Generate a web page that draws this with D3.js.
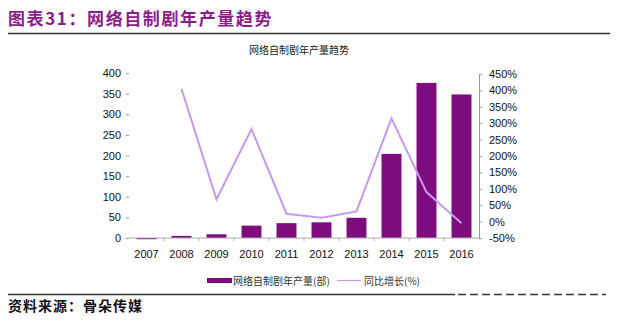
<!DOCTYPE html>
<html><head><meta charset="utf-8">
<script src="https://cdn.jsdelivr.net/npm/d3@7"></script>
<style>
body{margin:0;background:#fff;}
text{font-family:"Liberation Sans",Arial,sans-serif;}
.cjk{font-family:"Noto Sans CJK SC",sans-serif;}
</style></head>
<body><svg id="c" width="640" height="324"></svg>
<script>
const years = ["2007","2008","2009","2010","2011","2012","2013","2014","2015","2016"];
const output = [-3, 5, 9, 30, 36, 38, 49, 204, 376, 348];
const growth = [null, 405, 68, 282, 24, 12, 31, 315, 90, -5];
const leftTicks = [0,50,100,150,200,250,300,350,400];
const rightTicks = [-50,0,50,100,150,200,250,300,350,400,450];
const headerText = "图表31：网络自制剧年产量趋势";
const chartTitle = "网络自制剧年产量趋势";
const legendBar = "网络自制剧年产量(部)";
const legendLine = "同比增长(%)";
const sourceText = "资料来源：骨朵传媒";

const svg = d3.select("#c");
const purple = "#7E0C7E", lav = "#C49BEA";
const L = 129, R = 479, T = 73, B = 238;

// header
svg.append("text").attr("class","cjk").attr("x",8).attr("y",25)
  .attr("font-size",17).attr("font-weight","bold").attr("letter-spacing",1.6).attr("fill","#8A1D8A").text(headerText);
svg.append("line").attr("x1",8).attr("x2",610).attr("y1",33.5).attr("y2",33.5)
  .attr("stroke","#333").attr("stroke-width",1.3);

svg.append("text").attr("class","cjk").attr("x",299).attr("y",54).attr("text-anchor","middle")
  .attr("font-size",10).attr("fill","#222").text(chartTitle);

const x = d3.scaleBand().domain(years).range([L,R]).paddingInner(0.43).paddingOuter(0.215);
const y = d3.scaleLinear().domain([0,400]).range([B,T]);
const y2 = d3.scaleLinear().domain([-50,450]).range([B,T+1]);

// bars
svg.append("g").selectAll("rect").data(output).join("rect")
  .attr("x",(d,i)=>x(years[i])).attr("width",x.bandwidth())
  .attr("y",d=>y(Math.max(0,d))).attr("height",d=>Math.abs(y(d)-y(0)))
  .attr("fill",purple);

// left axis
const ga = svg.append("g").attr("transform",`translate(${L},0)`)
  .call(d3.axisLeft(y).tickValues(leftTicks).tickSize(3).tickPadding(5));
ga.select(".domain").remove();
ga.selectAll("line").attr("stroke","#999");
ga.selectAll("text").attr("font-size",11).attr("fill","#111").attr("font-family","Liberation Sans, Arial");

// right axis
const gr = svg.append("g").attr("transform",`translate(${R},0)`)
  .call(d3.axisRight(y2).tickValues(rightTicks).tickFormat(d=>d+"%").tickSize(3).tickPadding(7));
gr.select(".domain").attr("stroke","#999");
gr.selectAll("line").attr("stroke","#999");
gr.selectAll("text").attr("font-size",11).attr("fill","#111").attr("font-family","Liberation Sans, Arial");

// x axis
const gx = svg.append("g").attr("transform",`translate(0,${y(0)})`)
  .call(d3.axisBottom(x).tickSize(0).tickPadding(12));
gx.select(".domain").attr("stroke","#aaa").attr("d",`M${L},0H${R}`);
gx.selectAll("text").attr("font-size",11).attr("fill","#111").attr("font-family","Liberation Sans, Arial");
// category separators
svg.append("g").selectAll("line").data(years.slice(1)).join("line")
  .attr("x1",d=>x(d)-x.step()*0.215).attr("x2",d=>x(d)-x.step()*0.215)
  .attr("y1",y(0)).attr("y2",y(0)+3).attr("stroke","#aaa");

// line
const line = d3.line().defined(d=>d!=null).x((d,i)=>x(years[i])+x.bandwidth()/2).y(d=>y2(d));
svg.append("path").datum(growth).attr("d",line).attr("fill","none")
  .attr("stroke",lav).attr("stroke-width",2);

// legend
svg.append("rect").attr("x",207).attr("y",278).attr("width",25).attr("height",5).attr("fill",purple);
svg.append("text").attr("class","cjk").attr("x",233).attr("y",284.5).attr("font-size",10).attr("fill","#333").text(legendBar);
svg.append("line").attr("x1",337).attr("x2",361).attr("y1",280.5).attr("y2",280.5).attr("stroke",lav).attr("stroke-width",1.2);
svg.append("text").attr("class","cjk").attr("x",364).attr("y",284.5).attr("font-size",10).attr("fill","#333").text(legendLine);

// footer
svg.append("line").attr("x1",8).attr("x2",455).attr("y1",294.5).attr("y2",294.5).attr("stroke","#333").attr("stroke-width",1.3);
svg.append("line").attr("x1",458).attr("x2",606).attr("y1",294.5).attr("y2",294.5).attr("stroke","#333").attr("stroke-width",1.3).attr("stroke-dasharray","8,4");
svg.append("text").attr("class","cjk").attr("x",8).attr("y",311).attr("font-size",14).attr("font-weight","bold").attr("letter-spacing",1).attr("fill","#111").text(sourceText);
</script></body></html>
